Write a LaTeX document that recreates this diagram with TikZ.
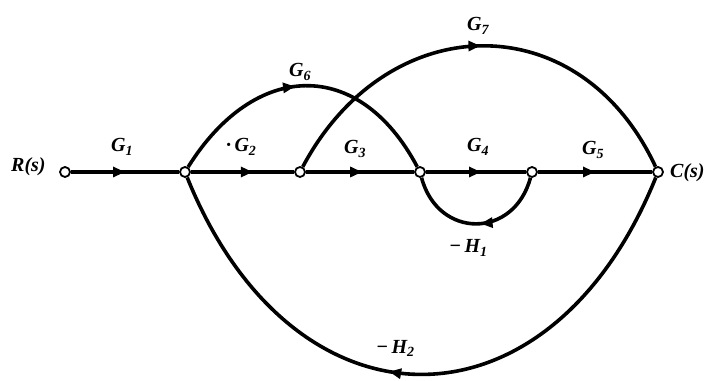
\documentclass[tikz,border=0pt]{standalone}
\usepackage{fontspec}
\setmainfont{Liberation Serif}
\usetikzlibrary{arrows.meta,decorations.markings}
\pgfdeclarelayer{bg}
\pgfsetlayers{bg,main}
\tikzset{
  sig/.style={circle,draw=black,fill=white,line width=1.8pt,inner sep=0pt,minimum size=10pt},
  lbl/.style={font=\fontsize{20}{22}\selectfont\bfseries\itshape,inner sep=0pt},
  br/.style={line width=3.6pt,draw=black},
  mid/.style={postaction={decorate},decoration={markings,
     mark=at position #1 with {\arrow{Triangle[length=12pt,width=10pt]}}}}
}
\begin{document}
\begin{tikzpicture}[x=1pt,y=1pt]
\useasboundingbox (0,0) rectangle (714,380);
% signal nodes
\node[sig] (R)  at (65,208) {};
\node[sig] (n1) at (185,208) {};
\node[sig] (n2) at (300,208) {};
\node[sig] (n3) at (420,208) {};
\node[sig] (n4) at (532,208) {};
\node[sig] (C)  at (658,208) {};
\begin{pgfonlayer}{bg}
% forward branches
\draw[br,mid=0.5] (R) -- (n1);
\draw[br,mid=0.6] (n1) -- (n2);
\draw[br,mid=0.52] (n2) -- (n3);
\draw[br,mid=0.55] (n3) -- (n4);
\draw[br,mid=0.5] (n4) -- (C);
% feedforward arcs
\draw[br,mid=0.47] (n1) to[out=58,in=118,looseness=1.4] (n3);
\draw[br,mid=0.5] (n2) to[out=62,in=115,looseness=1.31] (C);
% feedback loops
\draw[br,mid=0.47] (n4) to[out=-105,in=-75,looseness=1.5] (n3);
\draw[br,mid=0.55] (C) to[out=-112,in=-68,looseness=1.55] (n1);
\end{pgfonlayer}
% labels
\node[lbl,anchor=base west] (lR) at (11,208) {R(s)};
\node[lbl,anchor=base west] (lC) at (670,202) {C(s)};
\node[lbl,anchor=base west] (g1) at (111,228) {G\textsubscript{1}};
\node[lbl,anchor=base west] (g2) at (226,228) {·\,G\textsubscript{2}};
\node[lbl,anchor=base west] (g3) at (344,226) {G\textsubscript{3}};
\node[lbl,anchor=base west] (g4) at (467,228) {G\textsubscript{4}};
\node[lbl,anchor=base west] (g5) at (582,225) {G\textsubscript{5}};
\node[lbl,anchor=base west] (g6) at (289,303) {G\textsubscript{6}};
\node[lbl,anchor=base west] (g7) at (467,349) {G\textsubscript{7}};
\node[lbl,anchor=base west] (h1) at (449,127) {−\,H\textsubscript{1}};
\node[lbl,anchor=base west] (h2) at (376,27) {−\,H\textsubscript{2}};
\end{tikzpicture}
\end{document}
